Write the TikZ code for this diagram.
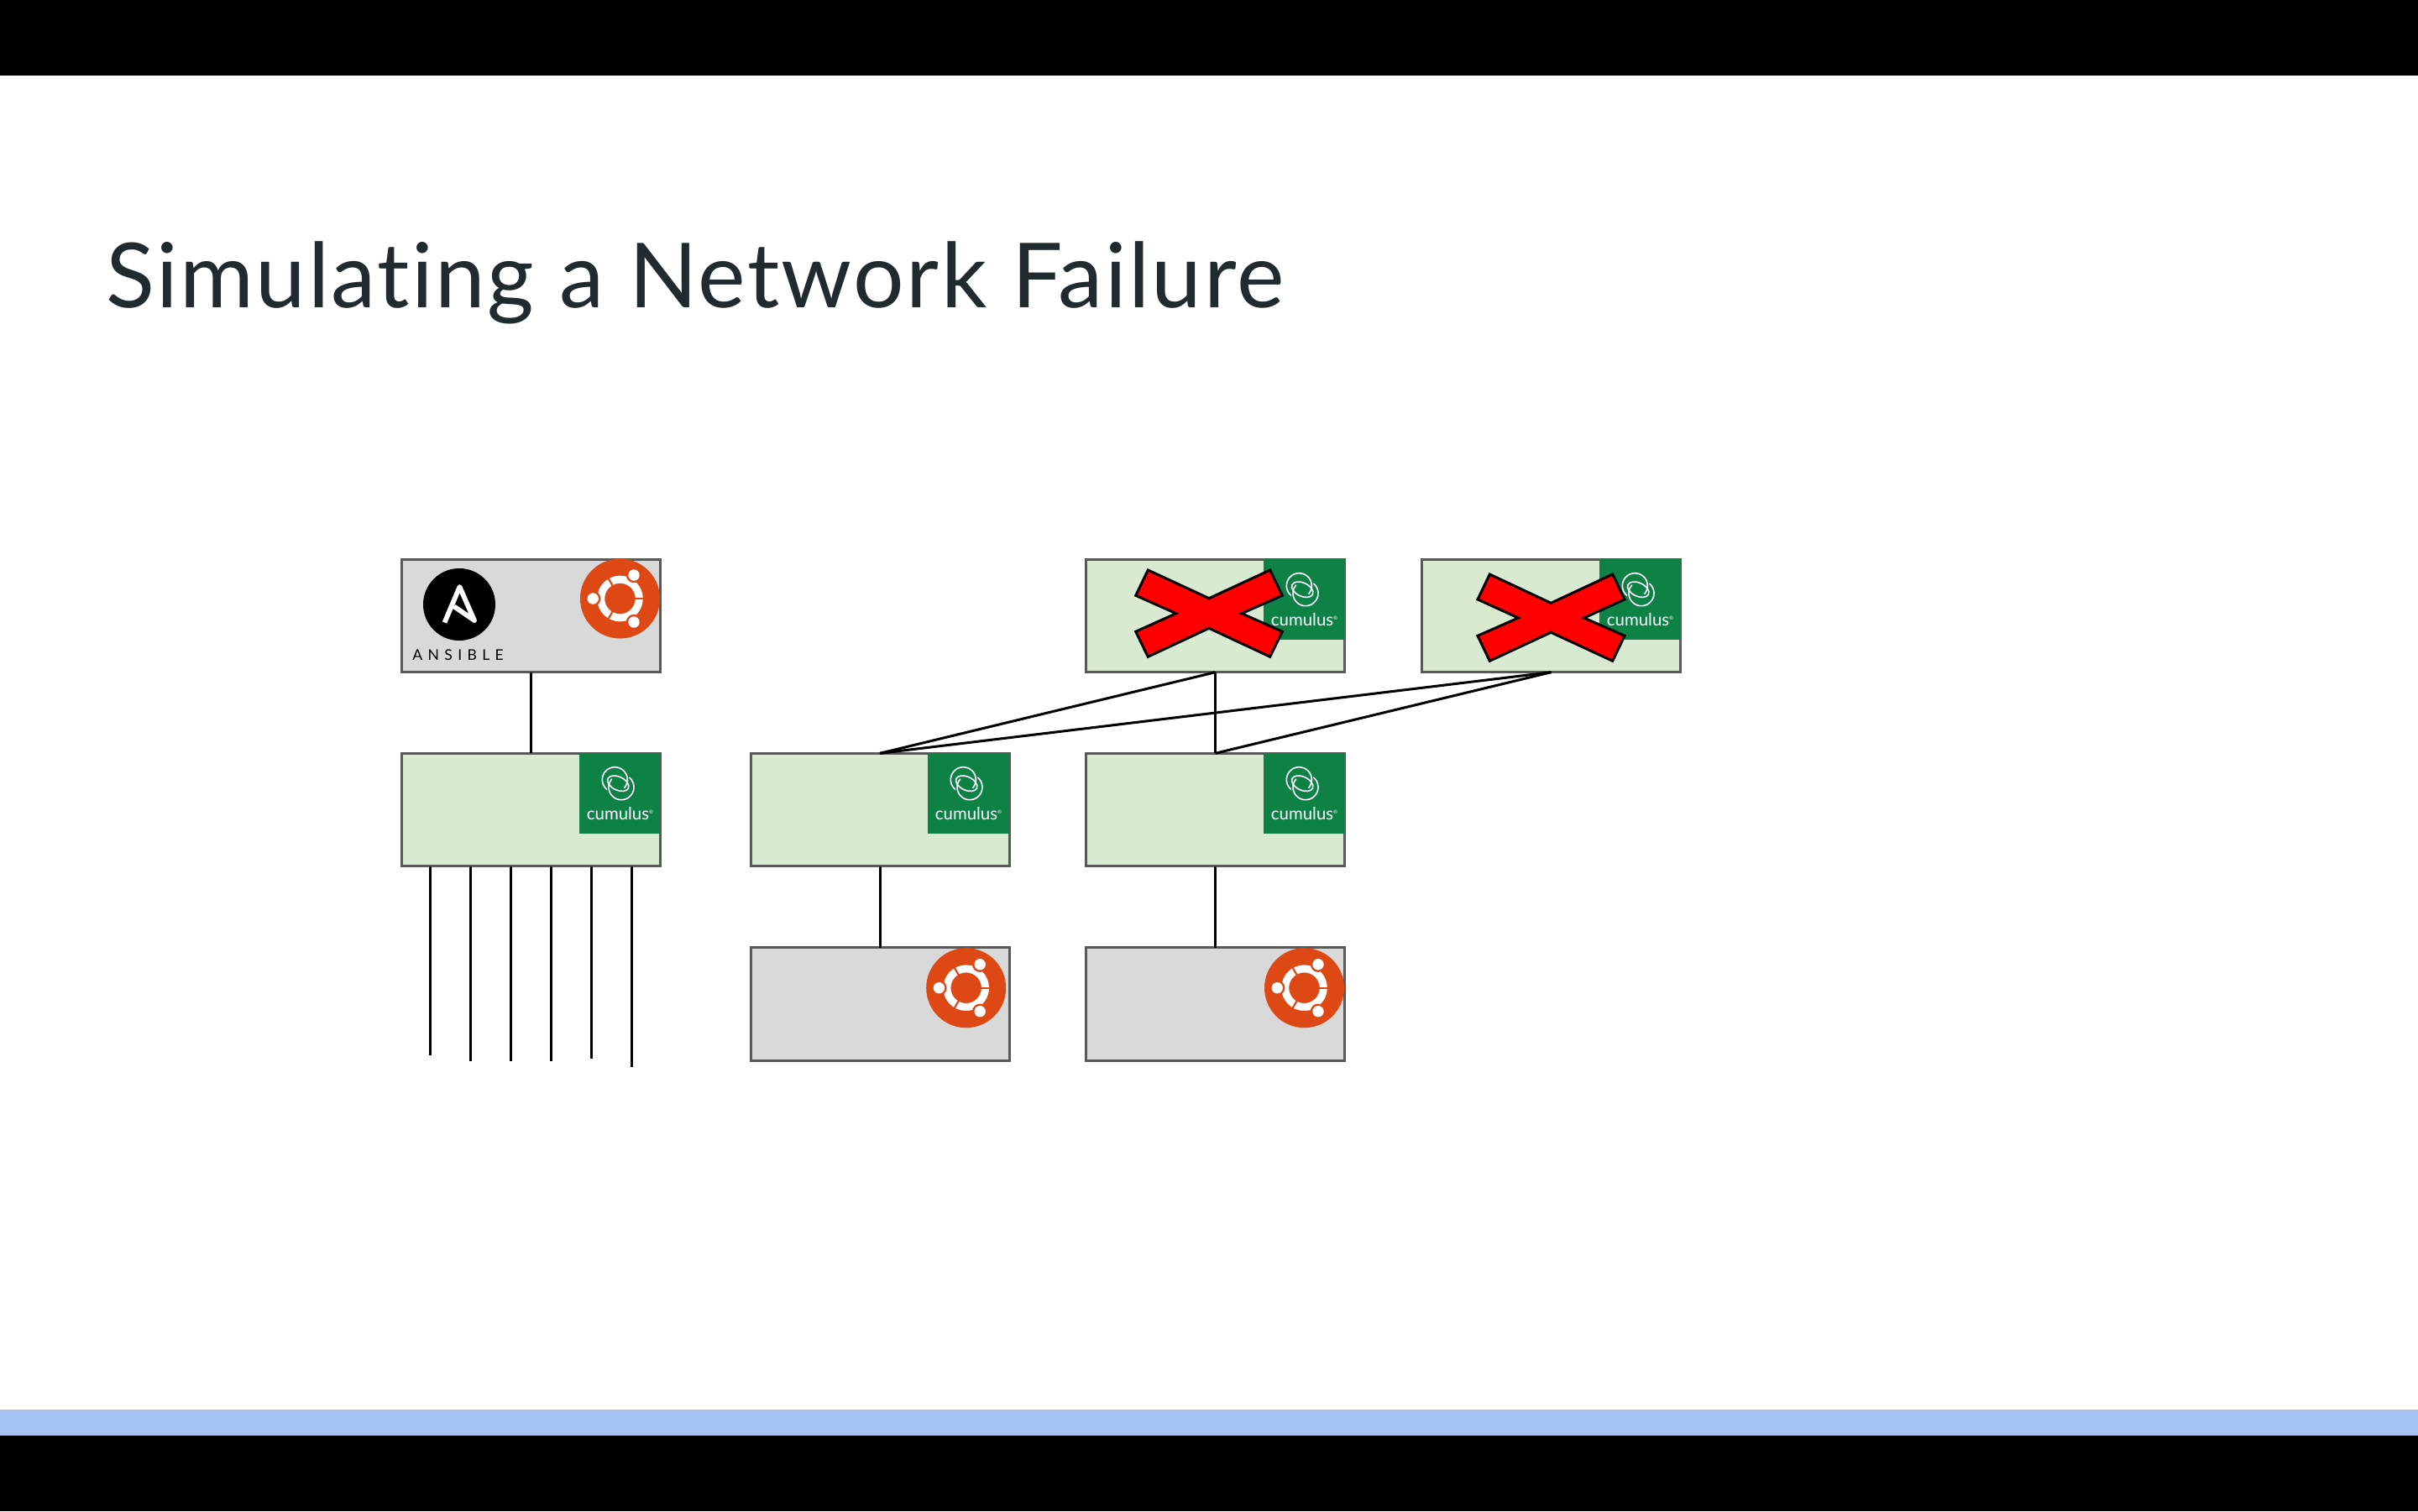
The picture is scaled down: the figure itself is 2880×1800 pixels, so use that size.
\documentclass[tikz,border=0pt]{standalone}
\usepackage{fontspec}
\setmainfont{Lato}[Ligatures=NoCommon]
\definecolor{boxedge}{HTML}{595959}
\definecolor{swfill}{HTML}{D9EAD3}
\definecolor{hostfill}{HTML}{D9D9D9}
\definecolor{cumgreen}{HTML}{0E8246}
\definecolor{ubu}{HTML}{DD4814}
\definecolor{titlecol}{HTML}{212B2D}
\definecolor{band}{HTML}{A4C2F4}
\tikzset{
  x=0.5pt,y=-0.5pt,
  basebox/.style={draw=boxedge,rectangle,minimum width=154pt,minimum height=67.2pt,inner sep=0pt,outer sep=0pt,line width=1.5pt},
  swbox/.style={basebox,fill=swfill},
  hostbox/.style={basebox,fill=hostfill},
  wire/.style={draw=black,line width=1.5pt},
  crossmark/.style={fill=red,draw=black,line width=1.5pt,line join=miter},
  ubuntulogo/.pic={
    \fill[ubu] (0,0) circle (47.5);
    \fill[white,even odd rule] (0,0) circle (27.3) (0,0) circle (18.3);
    \foreach \a in {0,120,240}{\draw[ubu,line width=1.1pt] (\a:15) -- (\a:30);}
    \foreach \px/\py in {-32.3/0,16.5/-28,16.5/28}{
      \fill[ubu] (\px,\py) circle (9.2);
      \fill[white] (\px,\py) circle (6.7);
    }
  },
  cumuluslogo/.pic={
    \fill[cumgreen] (0,0) rectangle (96,96);
    \draw[white,line width=0.8pt,line cap=round] (42.3,31.7) ++(130:15) arc[start angle=130,end angle=400,radius=15];
    \draw[white,line width=0.8pt,line cap=round] (50,40.7) ++(310:15) arc[start angle=310,end angle=580,radius=15];
    \draw[white,line width=0.8pt,rotate around={-25:(46.2,36.2)}] (46.2,36.2) ellipse (13.5 and 8);
    \node[text=white,font=\fontsize{10.2}{11}\selectfont,anchor=base,inner sep=0pt] (word) at (48.5,79.5) {cumulus\raisebox{3.5pt}{\fontsize{3}{3}\selectfont®}};
  },
}
\begin{document}
\begin{tikzpicture}
\useasboundingbox (0,0) rectangle (2880,1800);
\fill[white] (0,0) rectangle (2880,1800);
\fill[black] (0,0) rectangle (2880,90);
\fill[band] (0,1679) rectangle (2880,1710);
\fill[black] (0,1710) rectangle (2880,1800);
\node[anchor=base west,inner sep=0pt,text=titlecol,font=\addfontfeature{LetterSpace=2.25}\fontsize{53.5}{54}\selectfont] (title) at (126,366) {Simulating a Network Failure};

\node[hostbox] (ctl) at (632.5,733.5) {};
\node[swbox] (oob) at (632.5,964.5) {};
\node[swbox] (leafa) at (1048,964.5) {};
\node[swbox] (leafb) at (1447.5,964.5) {};
\node[swbox] (spinea) at (1447.5,733.5) {};
\node[swbox] (spineb) at (1847.5,733.5) {};
\node[hostbox] (hosta) at (1048,1196) {};
\node[hostbox] (hostb) at (1447.5,1196) {};

\coordinate (e1) at (512.3,1257);
\coordinate (e2) at (560.7,1264);
\coordinate (e3) at (608.7,1264);
\coordinate (e4) at (656.7,1264);
\coordinate (e5) at (704.7,1261);
\coordinate (e6) at (752.7,1271);
\foreach \e in {e1,e2,e3,e4,e5,e6}{\draw[wire] (oob.south -| \e) -- (\e);}

\draw[wire] (ctl.south) -- (oob.north);
\draw[wire] (spinea.south) -- (leafa.north);
\draw[wire] (spinea.south) -- (leafb.north);
\draw[wire] (spineb.south) -- (leafa.north);
\draw[wire] (spineb.south) -- (leafb.north);
\draw[wire] (leafa.south) -- (hosta.north);
\draw[wire] (leafb.south) -- (hostb.north);

\pic (ca) at (690,897) {cumuluslogo};
\pic (cb) at (1105,897) {cumuluslogo};
\pic (cc) at (1505,897) {cumuluslogo};
\pic (cd) at (1505,666) {cumuluslogo};
\pic (ce) at (1905,666) {cumuluslogo};

\pic (ua) at (738.5,713) {ubuntulogo};
\pic (ub) at (1150.7,1176.7) {ubuntulogo};
\pic (uc) at (1553.5,1176.7) {ubuntulogo};

\fill[black] (547,720) circle (43);
\draw[white,line width=2.9pt,line join=round] (529.5,741.5) -- (547.5,699) -- (565,739) -- (541,722.5);
\node[anchor=base west,inner sep=0pt,font=\addfontfeature{LetterSpace=36}\fontsize{8.8}{9}\selectfont] (ansibleword) at (491,786) {ANSIBLE};

\draw[crossmark] (1367.3,679) -- (1440,712.7) -- (1512.7,679) -- (1527.3,709.3) -- (1479,730.7) -- (1527.3,752.3) -- (1512.7,782.3) -- (1440,748.3) -- (1367.3,782.3) -- (1352.7,752.3) -- (1400.7,730.7) -- (1352.7,709.3) -- cycle;
\draw[crossmark] (1774.3,684) -- (1847.3,718.3) -- (1920.7,684) -- (1935,714) -- (1886.7,736) -- (1935,757.3) -- (1920.7,787.3) -- (1847.3,753.3) -- (1774.3,787.3) -- (1760,757.3) -- (1808.3,736) -- (1760,714) -- cycle;
\end{tikzpicture}
\end{document}
